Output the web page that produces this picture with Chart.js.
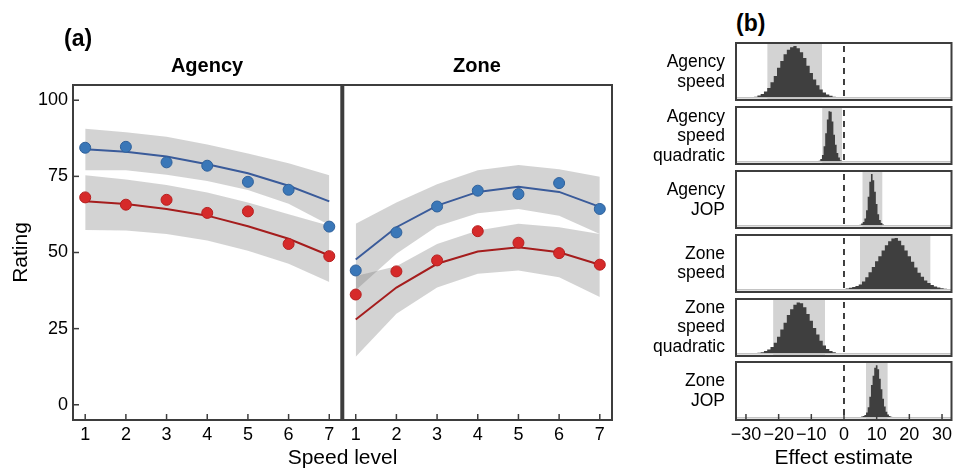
<!DOCTYPE html>
<html>
<head>
<meta charset="utf-8">
<script src="https://cdn.jsdelivr.net/npm/chart.js@4.4.0/dist/chart.umd.min.js"></script>
<style>
body{margin:0;background:#fff;font-family:"Liberation Sans",Arial,sans-serif;}
#wrap{position:relative;width:953px;height:472px;overflow:hidden;background:#fff;}
canvas{position:absolute;}
.t{position:absolute;color:#000;font-weight:bold;white-space:nowrap;}
.row{position:absolute;left:0;width:725px;display:flex;align-items:center;justify-content:flex-end;text-align:right;font-size:17.5px;line-height:19.5px;color:#000;}
</style>
</head>
<body>
<div id="wrap">
  <canvas id="rating" width="620" height="472" style="left:0;top:0;width:620px;height:472px"></canvas>
  <div class="t" style="left:64px;top:25px;font-size:23px">(a)</div>
  <div class="t" style="left:207px;top:54px;font-size:20px;transform:translateX(-50%)">Agency</div>
  <div class="t" style="left:477px;top:54px;font-size:20px;transform:translateX(-50%)">Zone</div>
  <div class="t" style="left:736px;top:10px;font-size:23px">(b)</div>
</div>
<script>
// ---- panel (a) data ----
const speedLevels=[1,2,3,4,5,6,7];
const yTicks=[0,25,50,75,100];

const agencyBlueObs=[84.4,84.7,79.6,78.5,73.2,70.6,58.5];
const agencyBlueFit=[83.9,83.1,81.5,79.0,76.0,71.9,66.8];
const agencyBlueHi=[90.6,89.5,88.0,85.5,82.5,79.3,75.4];
const agencyBlueLo=[77.0,77.0,75.5,73.5,70.5,66.0,59.0];
const agencyRedObs=[68.1,65.7,67.3,63.0,63.5,52.8,48.8];
const agencyRedFit=[66.8,65.9,64.3,62.1,58.6,54.5,49.0];
const agencyRedHi=[75.4,74.0,72.2,69.7,66.4,62.6,58.8];
const agencyRedLo=[57.4,57.2,56.1,53.9,50.6,46.3,40.3];

const zoneBlueObs=[44.1,56.6,65.1,70.3,69.2,72.8,64.3];
const zoneBlueFit=[47.7,58.3,65.4,69.9,71.6,69.9,65.0];
const zoneBlueHi=[59.4,66.4,72.4,77.0,78.7,77.3,74.9];
const zoneBlueLo=[37.6,49.6,58.6,62.9,64.3,62.1,56.1];
const zoneRedObs=[36.2,43.8,47.4,57.0,53.2,49.8,46.0];
const zoneRedFit=[28.0,38.5,46.3,50.3,51.7,50.1,46.0];
const zoneRedHi=[42.3,45.5,52.8,57.2,59.4,58.3,56.1];
const zoneRedLo=[15.8,29.9,38.5,43.0,44.1,41.9,35.4];

// ---- panel (b) data: posterior histograms (height relative to peak) ----
const rowLabels=["Agency<br>speed","Agency<br>speed<br>quadratic","Agency<br>JOP","Zone<br>speed","Zone<br>speed<br>quadratic","Zone<br>JOP"];
const effectTicks=[-30,-20,-10,0,10,20,30];
const binStart=[-29,-8,4.5,-1,-28,5];
const binWidth=[1,0.5,0.5,1,1,0.5];
const agencySpeedHist=[0.01,0.01,0.02,0.04,0.07,0.12,0.19,0.30,0.42,0.58,0.71,0.84,0.93,0.98,1.0,0.96,0.88,0.77,0.62,0.48,0.35,0.24,0.16,0.10,0.06,0.035,0.02,0.01,0.005];
const agencyQuadHist=[0.01,0.02,0.05,0.13,0.3,0.55,0.82,0.98,0.97,0.78,0.52,0.33,0.17,0.08,0.03,0.015,0.005];
const agencyJopHist=[0.01,0.02,0.04,0.07,0.14,0.3,0.56,0.85,1.0,0.88,0.66,0.42,0.22,0.11,0.05,0.025,0.01,0.005];
const zoneSpeedHist=[0.01,0.015,0.025,0.035,0.05,0.07,0.1,0.16,0.24,0.34,0.44,0.55,0.65,0.76,0.86,0.94,0.99,1.0,0.95,0.86,0.76,0.65,0.54,0.43,0.33,0.25,0.18,0.13,0.09,0.06,0.04,0.03,0.02,0.015,0.01];
const zoneQuadHist=[0.005,0.01,0.02,0.03,0.05,0.08,0.13,0.21,0.33,0.47,0.6,0.75,0.86,0.95,0.99,0.98,0.9,0.77,0.64,0.5,0.37,0.25,0.16,0.09,0.05,0.03,0.015,0.008,0.004];
const zoneJopHist=[0.01,0.02,0.03,0.05,0.1,0.2,0.4,0.62,0.8,0.95,1.0,0.92,0.74,0.54,0.36,0.21,0.11,0.06,0.03,0.015,0.005];
const ciLow=[-23.5,-6.7,5.6,4.9,-21.7,6.7];
const ciHigh=[-6.7,-0.6,11.8,26.5,-5.8,13.4];
const hists=[agencySpeedHist,agencyQuadHist,agencyJopHist,zoneSpeedHist,zoneQuadHist,zoneJopHist];

const ZONE_SHIFT=6.65, DIVIDER_X=7.32;
const BLUE_PT='#3a77b8', BLUE_LINE='#3a5b9a', RED_PT='#d62a2a', RED_LINE='#a51d1d';
const BAND='rgba(118,118,118,0.32)';
const FRAME='#3d3d3d';

Chart.defaults.font.family='"Liberation Sans", Arial, sans-serif';
Chart.defaults.color='#000';
Chart.defaults.animation=false;

const framePlugin={
  id:'frame',
  afterDatasetsDraw(chart,args,o){
    const {ctx,chartArea:a,scales}=chart;
    ctx.save();
    if(o.baseline){
      const p=scales.y.getPixelForValue(0);
      ctx.strokeStyle='#c4c4c4';ctx.lineWidth=1.5;
      ctx.beginPath();ctx.moveTo(a.left,p);ctx.lineTo(a.right,p);ctx.stroke();
    }
    if(o.zeroLine){
      const p=scales.x.getPixelForValue(0);
      ctx.strokeStyle='#000';ctx.lineWidth=1.5;ctx.setLineDash([6,5]);
      ctx.beginPath();ctx.moveTo(p,a.top+3);ctx.lineTo(p,a.bottom);ctx.stroke();
      ctx.setLineDash([]);
    }
    ctx.strokeStyle=FRAME;ctx.lineWidth=1.5;
    if(o.tickX){
      scales.x.ticks.forEach(t=>{const p=scales.x.getPixelForValue(t.value);ctx.beginPath();ctx.moveTo(p,a.bottom);ctx.lineTo(p,a.bottom-6);ctx.stroke();});
    }
    if(o.tickY){
      scales.y.ticks.forEach(t=>{const p=scales.y.getPixelForValue(t.value);ctx.beginPath();ctx.moveTo(a.left,p);ctx.lineTo(a.left+6,p);ctx.stroke();});
    }
    if(o.divider!=null){
      const p=scales.x.getPixelForValue(o.divider);
      ctx.lineWidth=4;ctx.beginPath();ctx.moveTo(p,a.top);ctx.lineTo(p,a.bottom);ctx.stroke();
    }
    ctx.lineWidth=2;
    ctx.strokeRect(a.left,a.top,a.right-a.left,a.bottom-a.top);
    ctx.restore();
  }
};

function xy(ys,shift){return speedLevels.map((s,i)=>({x:s+shift,y:ys[i]}));}
function band(hi,lo,shift){
  return [
    {data:xy(hi,shift),fill:'+1',backgroundColor:BAND,borderWidth:0,pointRadius:0,order:3},
    {data:xy(lo,shift),fill:false,borderWidth:0,pointRadius:0,order:3}
  ];
}
function fit(ys,shift,c){return {data:xy(ys,shift),borderColor:c,borderWidth:2,pointRadius:0,fill:false,order:2};}
function obs(ys,shift,bg,bd){return {data:xy(ys,shift),showLine:false,pointRadius:5.5,pointBackgroundColor:bg,pointBorderColor:bd,pointBorderWidth:1,order:1};}

new Chart(document.getElementById('rating'),{
  type:'line',
  data:{datasets:[
    ...band(agencyBlueHi,agencyBlueLo,0),
    ...band(agencyRedHi,agencyRedLo,0),
    ...band(zoneBlueHi,zoneBlueLo,ZONE_SHIFT),
    ...band(zoneRedHi,zoneRedLo,ZONE_SHIFT),
    fit(agencyBlueFit,0,BLUE_LINE),fit(agencyRedFit,0,RED_LINE),
    fit(zoneBlueFit,ZONE_SHIFT,BLUE_LINE),fit(zoneRedFit,ZONE_SHIFT,RED_LINE),
    obs(agencyBlueObs,0,BLUE_PT,'#2f609a'),obs(agencyRedObs,0,RED_PT,'#b51f1f'),
    obs(zoneBlueObs,ZONE_SHIFT,BLUE_PT,'#2f609a'),obs(zoneRedObs,ZONE_SHIFT,RED_PT,'#b51f1f')
  ]},
  options:{
    responsive:false,
    layout:{padding:{top:85,right:8,left:0,bottom:0}},
    plugins:{legend:{display:false},tooltip:{enabled:false},
      frame:{tickX:true,tickY:true,divider:DIVIDER_X}},
    scales:{
      x:{type:'linear',min:0.7,max:13.95,
        grid:{display:false,drawTicks:false,tickLength:0},border:{display:false},
        afterBuildTicks:ax=>{ax.ticks=[...speedLevels,...speedLevels.map(s=>s+ZONE_SHIFT)].map(v=>({value:v}));},
        afterFit:ax=>{ax.height=52;ax.paddingLeft=0;ax.paddingRight=0;},
        ticks:{font:{size:18},padding:4,maxRotation:0,autoSkip:false,
          callback:v=>String(Math.round(v>DIVIDER_X?v-ZONE_SHIFT:v))},
        title:{display:true,text:'Speed level',font:{size:21},padding:{top:0,bottom:1}}
      },
      y:{min:-5,max:105,
        grid:{display:false,drawTicks:false,tickLength:0},border:{display:false},
        afterBuildTicks:ax=>{ax.ticks=yTicks.map(v=>({value:v}));},
        afterFit:ax=>{ax.width=73;ax.paddingTop=0;ax.paddingBottom=0;},
        ticks:{font:{size:18},padding:5},
        title:{display:true,text:'Rating',font:{size:21},padding:{top:9,bottom:0}}
      }
    }
  },
  plugins:[framePlugin]
});

// ---- panel (b) ----
const wrap=document.getElementById('wrap');
const boxTop0=43.3, boxPitch=63.8, boxH=57.4;
hists.forEach((h,i)=>{
  const top=boxTop0+i*boxPitch;
  const last=i===hists.length-1;
  const cv=document.createElement('canvas');
  const cTop=Math.round(top)-2;
  const cH=last?472-cTop:Math.round(boxH)+4;
  cv.width=253;cv.height=cH;
  cv.style.left='700px';cv.style.top=cTop+'px';cv.style.width='253px';cv.style.height=cH+'px';
  wrap.appendChild(cv);

  const lbl=document.createElement('div');
  lbl.className='row';
  lbl.style.top=top+'px';lbl.style.height=boxH+'px';
  lbl.innerHTML='<div>'+rowLabels[i]+'</div>';
  wrap.appendChild(lbl);

  const pts=h.map((v,k)=>({x:binStart[i]+k*binWidth[i],y:v}));
  new Chart(cv,{
    type:'line',
    data:{datasets:[
      {data:pts,stepped:'middle',fill:'origin',backgroundColor:'#3f3f3f',borderWidth:0,pointRadius:0,order:1},
      {data:[{x:ciLow[i],y:1.06},{x:ciHigh[i],y:1.06}],fill:'start',backgroundColor:'#d3d3d3',borderWidth:0,pointRadius:0,order:2}
    ]},
    options:{
      responsive:false,
      layout:{padding:{top:2,left:36,right:1.5,bottom:last?0:2}},
      plugins:{legend:{display:false},tooltip:{enabled:false},
        frame:{baseline:true,zeroLine:true,tickX:last}},
      scales:{
        x:{type:'linear',min:-33.05,max:32.9,display:last,
          grid:{display:false,drawTicks:false,tickLength:0},border:{display:false},
          afterBuildTicks:ax=>{ax.ticks=effectTicks.map(v=>({value:v}));},
          afterFit:ax=>{if(last){ax.height=52;}ax.paddingLeft=0;ax.paddingRight=0;},
          ticks:{font:{size:18},padding:4,maxRotation:0,autoSkip:false,
            callback:v=>String(v).replace('-','\u2212')},
          title:{display:true,text:'Effect estimate',font:{size:21},padding:{top:0,bottom:1}}
        },
        y:{display:false,min:-0.045,max:1.06}
      }
    },
    plugins:[framePlugin]
  });
});
</script>
</body>
</html>
